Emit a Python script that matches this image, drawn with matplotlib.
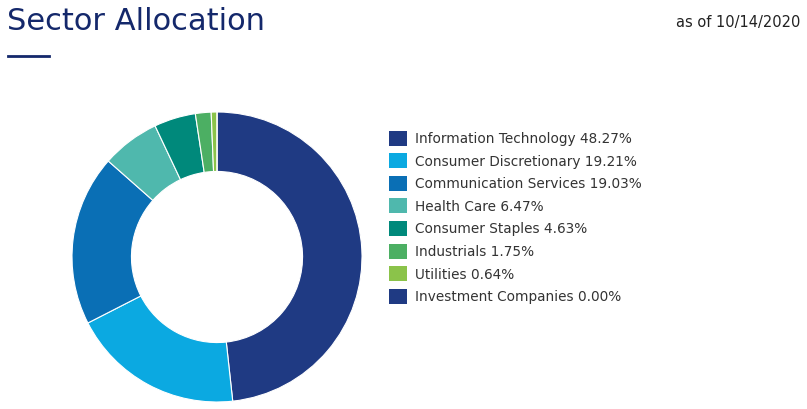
import matplotlib
matplotlib.use('Agg')
import matplotlib.pyplot as plt
from matplotlib.patches import Rectangle
from matplotlib.lines import Line2D

# === DATA ===
sectors = ["Information Technology", "Consumer Discretionary", "Communication Services",
           "Health Care", "Consumer Staples", "Industrials", "Utilities", "Investment Companies"]
weights = [48.27, 19.21, 19.03, 6.47, 4.63, 1.75, 0.64, 0.00]
colors = ["#1f3a83", "#0ba9e1", "#0a6fb5", "#4fb8ad", "#00897b", "#4caf63", "#8bc34a", "#1f3a83"]

W, H = 807, 410
fig = plt.figure(figsize=(W / 100, H / 100), dpi=100)

# === DONUT ===
cx, cy, r = 217, 258, 145
ax = fig.add_axes([(cx - r) / W, (H - cy - r) / H, 2 * r / W, 2 * r / H])
ax.pie(weights, colors=colors, startangle=90, counterclock=False,
       wedgeprops=dict(width=0.41, edgecolor="white", linewidth=0.8))
ax.set_aspect("equal")
ax.set_xlim(-1, 1)
ax.set_ylim(-1, 1)
ax.axis("off")

# === TITLE ===
fig.text(7 / W, 1 - 21 / H, "Sector Allocation", fontsize=22, color="#14286b", va="center", ha="left")
fig.add_artist(Line2D([8 / W, 49 / W], [1 - 57 / H] * 2, color="#14286b", linewidth=2))
fig.text(800 / W, 1 - 23 / H, "as of 10/14/2020", fontsize=10.5, color="#222222", va="center", ha="right")

# === LEGEND ===
y0, dy = 139, 22.6
for i, (name, w, c) in enumerate(zip(sectors, weights, colors)):
    y = y0 + i * dy
    fig.add_artist(Rectangle((389 / W, 1 - (y + 7.5) / H), 18 / W, 15 / H,
                             facecolor=c, edgecolor="none", transform=fig.transFigure))
    fig.text(415 / W, 1 - y / H, f"{name} {w:.2f}%", fontsize=9.8, color="#333333", va="center", ha="left")

fig.savefig("out.png", dpi=100)
